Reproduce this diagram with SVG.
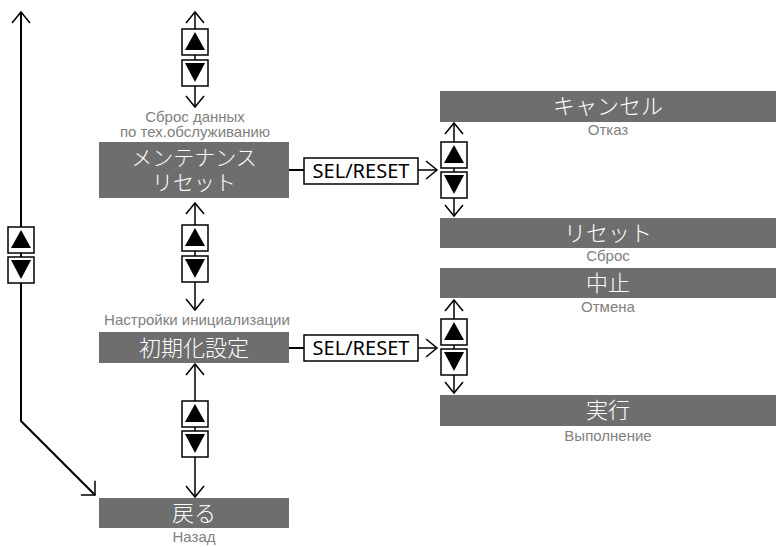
<svg xmlns="http://www.w3.org/2000/svg" xmlns:xlink="http://www.w3.org/1999/xlink" width="776" height="547" viewBox="0 0 776 547">
<style>
.box{fill:#6e6e6e}
.jp{font-family:"Noto Sans CJK JP","Noto Sans",sans-serif;font-size:22px;font-weight:300;fill:#ffffff;text-anchor:middle}
.jp2{font-family:"Noto Sans CJK JP","Noto Sans",sans-serif;font-size:21px;font-weight:300;fill:#ffffff;text-anchor:middle}
.ru{font-family:"Liberation Sans",Arial,sans-serif;font-size:15px;fill:#808080;text-anchor:middle}
.lbl{font-family:"Noto Sans","Open Sans",sans-serif;font-size:20px;fill:#000;text-anchor:middle}
.ln{fill:none;stroke:#000;stroke-width:1.5}
.lnb{fill:none;stroke:#000;stroke-width:2}
.lb{fill:#fff;stroke:#000;stroke-width:1.5}
</style>
<defs>
<marker id="ah" markerUnits="userSpaceOnUse" viewBox="-12 -11 14 22" refX="0" refY="0" markerWidth="14" markerHeight="22" orient="auto-start-reverse">
<path d="M-11,-9 L0,0 L-11,9" fill="none" stroke="#000" stroke-width="1.5"/>
</marker>
<marker id="ah45" markerUnits="userSpaceOnUse" viewBox="-12 -11 14 22" refX="0" refY="0" markerWidth="14" markerHeight="22" orient="auto">
<path d="M-10,-10 L0,0 L-10,10" fill="none" stroke="#000" stroke-width="1.5"/>
</marker>
<g id="bu">
<rect x="0" y="0" width="26" height="26" fill="#fff" stroke="#000" stroke-width="1.5"/>
<path d="M13,3 L23,21 L3,21 Z" fill="#000"/>
</g>
<g id="bd">
<rect x="0" y="0" width="26" height="26" fill="#fff" stroke="#000" stroke-width="1.5"/>
<path d="M3,3 L23,3 L13,22 Z" fill="#000"/>
</g>
</defs>
<rect width="776" height="547" fill="#fff"/>

<g id="connectors">
<path class="lnb" d="M21,12 L21,421 L95,495" marker-start="url(#ah)" marker-end="url(#ah45)"/>
<path class="ln" d="M195,12 L195,107" marker-start="url(#ah)" marker-end="url(#ah)"/>
<path class="ln" d="M195,203 L195,310" marker-start="url(#ah)" marker-end="url(#ah)"/>
<path class="ln" d="M195,364 L195,497" marker-start="url(#ah)" marker-end="url(#ah)"/>
<path class="ln" d="M454,123 L454,216" marker-start="url(#ah)" marker-end="url(#ah)"/>
<path class="ln" d="M454,300 L454,393" marker-start="url(#ah)" marker-end="url(#ah)"/>
<path class="lnb" d="M289,170 L304,170"/>
<path class="ln" d="M418,170 L437,170" marker-end="url(#ah)"/>
<path class="lnb" d="M289,348 L304,348"/>
<path class="ln" d="M418,348 L437,348" marker-end="url(#ah)"/>
</g>

<g id="buttons">
<use href="#bu" x="8" y="227"/>
<use href="#bd" x="8" y="257"/>
<use href="#bu" x="182" y="29"/>
<use href="#bd" x="182" y="60"/>
<use href="#bu" x="182" y="225"/>
<use href="#bd" x="182" y="256"/>
<use href="#bu" x="182" y="401"/>
<use href="#bd" x="182" y="431"/>
<use href="#bu" x="441" y="142"/>
<use href="#bd" x="441" y="172"/>
<use href="#bu" x="441" y="319"/>
<use href="#bd" x="441" y="349"/>
</g>

<g id="sel1">
<rect class="lb" x="304" y="158" width="114" height="26"/>
<text class="lbl" x="361" y="178">SEL/RESET</text>
</g>
<g id="sel2">
<rect class="lb" x="304" y="335" width="114" height="26"/>
<text class="lbl" x="361" y="355">SEL/RESET</text>
</g>

<g id="maint">
<text class="ru" x="195" y="122">Сброс данных<tspan x="195" y="137">по тех.обслуживанию</tspan></text>
<rect class="box" x="99" y="142" width="190" height="56"/>
<text class="jp2" x="194" y="165">メンテナンス<tspan x="194" y="190">リセット</tspan></text>
</g>
<g id="init">
<text class="ru" x="197" y="325">Настройки инициализации</text>
<rect class="box" x="99" y="332" width="190" height="31"/>
<text class="jp" x="194" y="356">初期化設定</text>
</g>
<g id="back">
<rect class="box" x="99" y="498" width="190" height="30"/>
<text class="jp" x="194" y="521">戻る</text>
<text class="ru" x="194" y="542">Назад</text>
</g>
<g id="cancel">
<rect class="box" x="440" y="91" width="336" height="31"/>
<text class="jp" x="608" y="114">キャンセル</text>
<text class="ru" x="608" y="135">Отказ</text>
</g>
<g id="reset">
<rect class="box" x="440" y="218" width="336" height="30"/>
<text class="jp" x="608" y="241">リセット</text>
<text class="ru" x="608" y="261">Сброс</text>
</g>
<g id="abort">
<rect class="box" x="440" y="268" width="336" height="30"/>
<text class="jp" x="608" y="291">中止</text>
<text class="ru" x="608" y="312">Отмена</text>
</g>
<g id="exec">
<rect class="box" x="440" y="395" width="336" height="31"/>
<text class="jp" x="608" y="418">実行</text>
<text class="ru" x="608" y="441">Выполнение</text>
</g>
</svg>
